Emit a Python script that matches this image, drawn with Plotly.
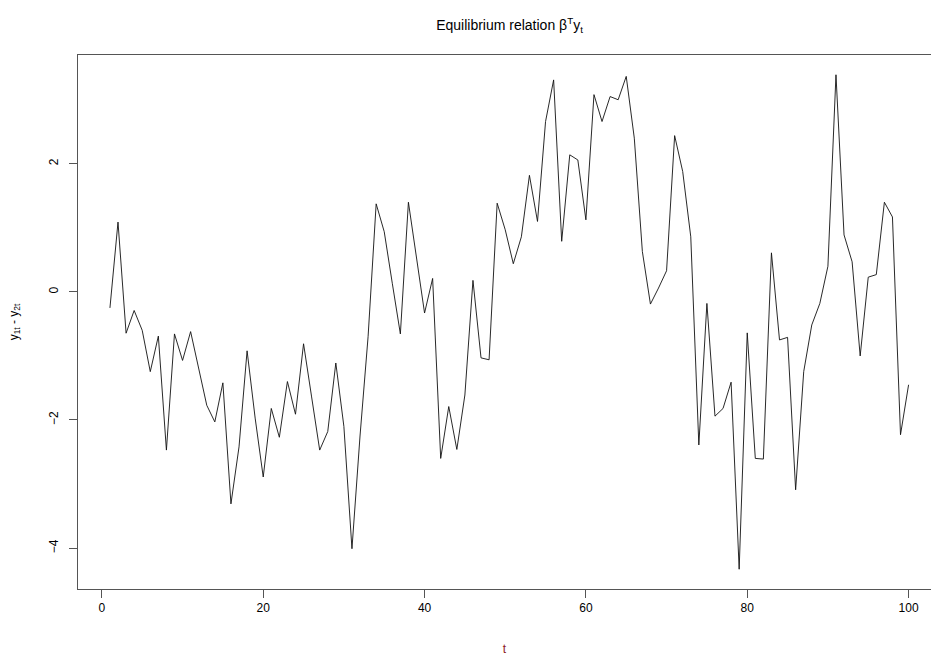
import plotly.graph_objects as go

# Time index and the equilibrium error beta' y_t = y1t - y2t
t = list(range(1, 101))
eq_error = [
    -0.25, 1.09, -0.645, -0.29, -0.60, -1.245, -0.69, -2.47, -0.656, -1.07,
    -0.62, -1.20, -1.77, -2.03, -1.42, -3.31, -2.42, -0.92, -1.97, -2.89,
    -1.82, -2.27, -1.40, -1.91, -0.81, -1.64, -2.47, -2.18, -1.11, -2.10,
    -4.01, -2.25, -0.70, 1.375, 0.94, 0.135, -0.656, 1.40, 0.50, -0.33,
    0.21, -2.60, -1.79, -2.46, -1.61, 0.18, -1.03, -1.06, 1.385, 0.97,
    0.44, 0.86, 1.82, 1.10, 2.66, 3.31, 0.79, 2.14, 2.06, 1.125,
    3.08, 2.66, 3.05, 3.00, 3.365, 2.40, 0.63, -0.19, 0.06, 0.33,
    2.44, 1.88, 0.86, -2.39, -0.18, -1.94, -1.82, -1.41, -4.33, -0.64,
    -2.60, -2.61, 0.61, -0.75, -0.71, -3.09, -1.245, -0.516, -0.18, 0.40,
    3.39, 0.89, 0.47, -1.00, 0.23, 0.27, 1.40, 1.17, -2.23, -1.45,
]
x_ticks = [0, 20, 40, 60, 80, 100]
y_ticks = [-4, -2, 0, 2]

FONT = "Liberation Sans, Arial, sans-serif"
AXIS_COLOR = "#555555"

fig = go.Figure()
fig.add_trace(go.Scatter(
    x=t, y=eq_error, mode="lines",
    line=dict(color="#111111", width=0.9),
    hoverinfo="x+y", showlegend=False,
))

# R-style ranges: data range padded by 4% on each side
ypad = 0.04 * (max(eq_error) - min(eq_error))
xpad = 0.04 * (max(t) - min(t))

fig.update_layout(
    width=931, height=656,
    margin=dict(l=78, r=0, t=55, b=67),
    paper_bgcolor="white", plot_bgcolor="white",
    font=dict(family=FONT, size=12, color="black"),
    title=dict(
        text="Equilibrium relation β<sup>T</sup>y<sub>t</sub>",
        x=509.5 / 931, xref="container", xanchor="center",
        y=1 - 25 / 656, yref="container", yanchor="middle",
        font=dict(family=FONT, size=14, color="black"),
    ),
    xaxis=dict(
        range=[min(t) - xpad, min(t) - xpad + 853 / 8.067],
        tickmode="array", tickvals=x_ticks,
        ticks="outside", ticklen=8, tickcolor=AXIS_COLOR, tickwidth=1,
        showline=True, mirror=True, linecolor=AXIS_COLOR, linewidth=1,
        showgrid=False, zeroline=False,
        tickfont=dict(family=FONT, size=12, color="black"),
        title=dict(text="t", standoff=30,
                   font=dict(family=FONT, size=12, color="#8b1a1a")),
    ),
    yaxis=dict(
        range=[min(eq_error) - ypad, max(eq_error) + ypad],
        tickmode="array", tickvals=y_ticks,
        tickangle=-90, ticklabelstandoff=6,
        ticks="outside", ticklen=8, tickcolor=AXIS_COLOR, tickwidth=1,
        showline=True, mirror=False, linecolor=AXIS_COLOR, linewidth=1,
        showgrid=False, zeroline=False,
        tickfont=dict(family=FONT, size=12, color="black"),
        title=dict(text="y<sub>1t</sub> - y<sub>2t</sub>", standoff=26,
                   font=dict(family=FONT, size=12, color="black")),
    ),
)

fig.write_html("out.html")
